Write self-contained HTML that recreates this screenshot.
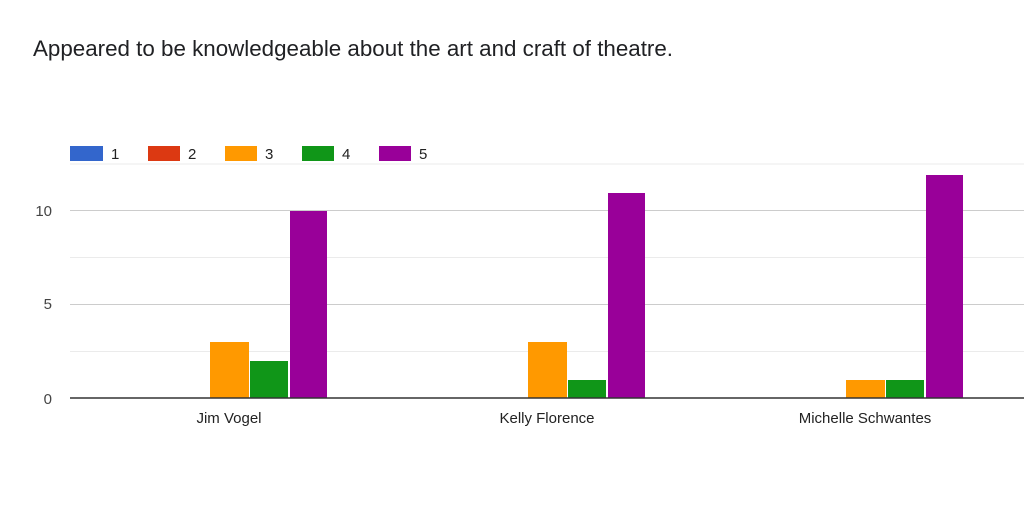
<!DOCTYPE html>
<html><head><style>
body{margin:0;background:#fff;width:1024px;height:501px;overflow:hidden;font-family:"Liberation Sans",Arial,sans-serif;}
</style></head><body>
<svg width="1024" height="501" xmlns="http://www.w3.org/2000/svg" font-family="Liberation Sans, Arial, sans-serif">
<rect width="1024" height="501" fill="#fff"/>
<text x="33" y="56" font-size="22" fill="#202124" textLength="640" lengthAdjust="spacingAndGlyphs">Appeared to be knowledgeable about the art and craft of theatre.</text>
<g font-size="15" fill="#222">
<rect x="70" y="146" width="33" height="15" fill="#3366cc"/><text x="111" y="159">1</text>
<rect x="148" y="146" width="32" height="15" fill="#dc3912"/><text x="188" y="159">2</text>
<rect x="225" y="146" width="32" height="15" fill="#ff9900"/><text x="265" y="159">3</text>
<rect x="302" y="146" width="32" height="15" fill="#109618"/><text x="342" y="159">4</text>
<rect x="379" y="146" width="32" height="15" fill="#990099"/><text x="419" y="159">5</text>
</g>
<g stroke-width="1">
<line x1="70" x2="1024" y1="164" y2="164" stroke="#ebebeb"/>
<line x1="70" x2="1024" y1="210.5" y2="210.5" stroke="#cccccc"/>
<line x1="70" x2="1024" y1="257.5" y2="257.5" stroke="#ebebeb"/>
<line x1="70" x2="1024" y1="304.5" y2="304.5" stroke="#cccccc"/>
<line x1="70" x2="1024" y1="351.5" y2="351.5" stroke="#ebebeb"/>
</g>
<g font-size="15" fill="#444" text-anchor="end">
<text x="52" y="216">10</text><text x="52" y="309">5</text><text x="52" y="404">0</text>
</g>
<g>
<rect x="210" y="342" width="39" height="56" fill="#ff9900"/>
<rect x="250" y="361" width="38" height="37" fill="#109618"/>
<rect x="290" y="211" width="37" height="187" fill="#990099"/>
<rect x="528" y="342" width="39" height="56" fill="#ff9900"/>
<rect x="568" y="380" width="38" height="18" fill="#109618"/>
<rect x="608" y="193" width="37" height="205" fill="#990099"/>
<rect x="846" y="380" width="39" height="18" fill="#ff9900"/>
<rect x="886" y="380" width="38" height="18" fill="#109618"/>
<rect x="926" y="175" width="37" height="223" fill="#990099"/>
</g>
<line x1="70" x2="1024" y1="398" y2="398" stroke="#333" stroke-width="1.5"/>
<g font-size="15" fill="#222" text-anchor="middle">
<text x="229" y="423">Jim Vogel</text>
<text x="547" y="423">Kelly Florence</text>
<text x="865" y="423">Michelle Schwantes</text>
</g>
</svg>
</body></html>
